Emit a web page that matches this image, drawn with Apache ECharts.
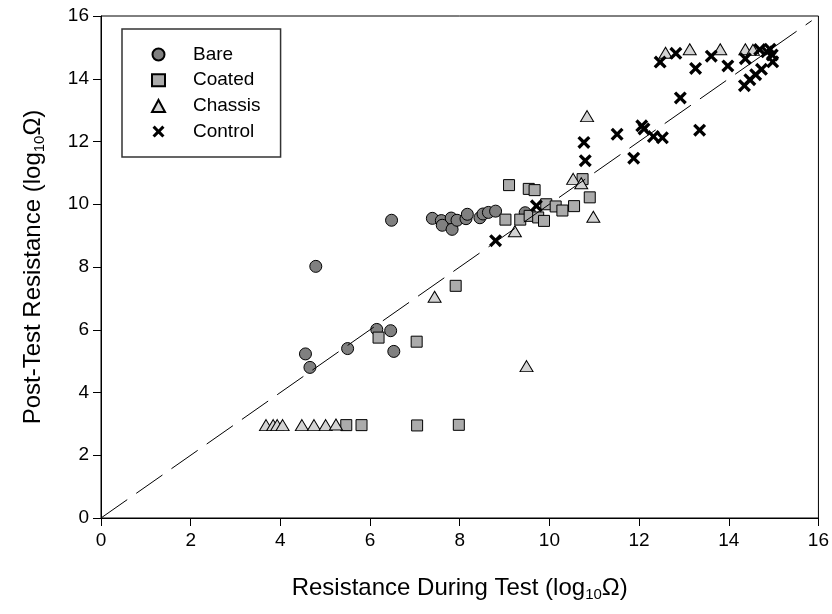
<!DOCTYPE html>
<html>
<head>
<meta charset="utf-8">
<script src="https://cdn.jsdelivr.net/npm/echarts@6/dist/echarts.min.js"></script>
<style>
html,body{margin:0;padding:0;background:#fff;}
#chart{width:832px;height:614px;}
</style>
</head>
<body>
<div id="chart"></div>
<script>
const xTicks = [0, 2, 4, 6, 8, 10, 12, 14, 16];
const yTicks = [0, 2, 4, 6, 8, 10, 12, 14, 16];
const seriesNames = ['Bare', 'Coated', 'Chassis', 'Control'];

const bare = [[4.56,5.23],[4.66,4.80],[4.79,8.02],[5.50,5.40],[6.15,6.01],[6.46,5.97],[6.53,5.31],[6.48,9.49],
  [7.39,9.55],[7.59,9.48],[7.61,9.33],[7.81,9.56],[7.83,9.20],[7.94,9.49],[8.14,9.54],[8.17,9.68],[8.45,9.57],
  [8.52,9.69],[8.64,9.74],[8.80,9.78],[9.46,9.73]];

const coated = [[5.47,2.96],[5.81,2.96],[7.05,2.95],[7.98,2.97],[6.19,5.75],[7.04,5.62],[7.91,7.40],
  [9.10,10.61],[9.54,10.49],[9.67,10.45],[9.02,9.51],[9.35,9.51],[9.56,9.63],[9.75,9.58],[9.88,9.47],
  [9.93,10.00],[10.14,9.93],[10.29,9.80],[10.55,9.94],[10.90,10.22],[10.74,10.80]];

const chassis = [[3.68,2.96],[3.84,2.96],[3.93,2.96],[4.05,2.96],[4.48,2.96],[4.75,2.96],[5.01,2.96],[5.24,2.98],
  [7.44,7.05],[9.23,9.14],[9.49,4.84],[10.53,10.81],[10.71,10.67],[10.98,9.60],[10.84,12.81],
  [12.59,14.83],[13.13,14.94],[13.81,14.94],[14.37,14.94],[14.54,14.92]];

const control = [[8.80,8.84],[9.71,9.95],[10.77,11.97],[10.80,11.39],[11.51,12.23],[11.88,11.47],[12.06,12.50],
  [12.11,12.40],[12.32,12.16],[12.52,12.12],[12.92,13.39],[13.35,12.36],[12.47,14.53],[12.82,14.81],[13.26,14.33],
  [13.61,14.72],[13.98,14.41],[14.37,14.64],[14.35,13.78],[14.47,13.97],[14.60,14.13],[14.73,14.30],
  [14.69,14.93],[14.85,14.86],[14.92,14.94],[14.97,14.76],[14.98,14.54]];

const refLine = [[0,0],[15.85,15.85]];

const FONT = 'Liberation Sans, Arial, sans-serif';
const crossPath = 'path://M0,1.8 L1.8,0 L5,3.2 L8.2,0 L10,1.8 L6.8,5 L10,8.2 L8.2,10 L5,6.8 L1.8,10 L0,8.2 L3.2,5 Z';

const chart = echarts.init(document.getElementById('chart'), null, {renderer: 'canvas'});
const axisCommon = {
  min: 0, max: 16, interval: 2,
  splitLine: {show: false},
  axisLine: {show: true, onZero: false, lineStyle: {color: '#000', width: 1}},
  axisTick: {show: true, inside: false, length: 8, lineStyle: {color: '#000', width: 1}},
  axisLabel: {color: '#000', fontSize: 19, fontFamily: FONT, showMaxLabel: true, showMinLabel: true}
};
const titleRich = {
  m: {fontSize: 24, fontFamily: FONT, color: '#000', lineHeight: 28},
  s: {fontSize: 15, fontFamily: FONT, color: '#000', lineHeight: 14, verticalAlign: 'bottom'}
};
chart.setOption({
  animation: false,
  backgroundColor: '#fff',
  grid: {left: 101, right: 13, top: 16, bottom: 96, show: true, borderColor: '#000', borderWidth: 1, backgroundColor: 'transparent'},
  xAxis: Object.assign({}, axisCommon, {
    type: 'value',
    axisLabel: Object.assign({}, axisCommon.axisLabel, {margin: 13, formatter: v => xTicks.includes(v) ? String(v) : ''}),
    name: '{m|Resistance During Test (log}{s|10}{m|Ω)}',
    nameLocation: 'middle', nameGap: 56,
    nameTextStyle: {rich: titleRich}
  }),
  yAxis: Object.assign({}, axisCommon, {
    type: 'value',
    axisLabel: Object.assign({}, axisCommon.axisLabel, {margin: 12, formatter: v => yTicks.includes(v) ? String(v) : ''}),
    name: '{m|Post-Test Resistance (log}{s|10}{m|Ω)}',
    nameLocation: 'middle', nameGap: 54,
    nameTextStyle: {rich: titleRich}
  }),
  legend: {
    show: true, orient: 'vertical', left: 122, top: 29,
    data: seriesNames,
    padding: [15, 20, 15, 29],
    itemWidth: 13, itemHeight: 12, itemGap: 4.7,
    formatter: name => '{t|' + name + '}',
    borderColor: '#333', borderWidth: 1.5, backgroundColor: '#fff',
    textStyle: {fontSize: 19, fontFamily: FONT, color: '#000', lineHeight: 21,
      rich: {t: {fontSize: 19, fontFamily: FONT, color: '#000', lineHeight: 21, padding: [0, 0, 0, 23]}}}
  },
  series: [
    {name: 'Bare', type: 'scatter', data: bare, symbol: 'circle', symbolSize: 12,
      itemStyle: {color: '#808080', borderColor: '#000', borderWidth: 1, opacity: 1}, z: 3},
    {name: 'Coated', type: 'scatter', data: coated, symbol: 'rect', symbolSize: 11,
      itemStyle: {color: '#ababab', borderColor: '#000', borderWidth: 1, opacity: 1}, z: 3},
    {name: 'Chassis', type: 'scatter', data: chassis, symbol: 'triangle', symbolSize: [13, 11],
      itemStyle: {color: '#d3d3d3', borderColor: '#000', borderWidth: 1, opacity: 1}, z: 3},
    {name: 'Control', type: 'scatter', data: control, symbol: crossPath, symbolSize: 13,
      itemStyle: {color: '#000', borderWidth: 0, opacity: 1}, z: 4},
    {name: 'ref', type: 'line', data: refLine, symbol: 'none', silent: true, z: 5,
      lineStyle: {color: '#000', width: 1, type: [32, 11]}}
  ]
});
</script>
</body>
</html>
